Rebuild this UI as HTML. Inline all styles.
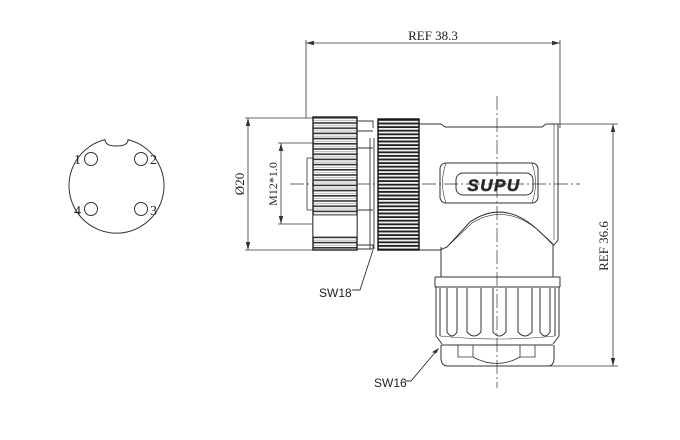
<!DOCTYPE html>
<html><head><meta charset="utf-8"><style>
html,body{margin:0;padding:0;background:#fff;}
svg{display:block;}
text{font-family:"Liberation Serif",serif;fill:#222;}
.s{font-family:"Liberation Sans",sans-serif;}
</style></head><body>
<svg width="680" height="440" viewBox="0 0 680 440" xmlns="http://www.w3.org/2000/svg">
<defs>
<pattern id="k1" x="0" y="117" width="10" height="5.2" patternUnits="userSpaceOnUse">
<rect width="10" height="5.2" fill="#fff"/><rect y="0" width="10" height="1.6" fill="#333"/><rect y="3.2" width="10" height="0.7" fill="#999"/>
</pattern>
<pattern id="k2" x="0" y="119" width="10" height="3.6" patternUnits="userSpaceOnUse">
<rect width="10" height="3.6" fill="#eee"/><rect y="0" width="10" height="1.8" fill="#222"/>
</pattern>
<marker id="a" markerWidth="8" markerHeight="6" refX="8" refY="3" orient="auto-start-reverse" markerUnits="userSpaceOnUse">
<path d="M0,0.8 L8,3 L0,5.2Z" fill="#333"/></marker>
</defs>
<g fill="none" stroke="#333" stroke-width="1">
<path d="M105,139.6 A47.5,47.5 0 1 0 128,139.6 Q128,146 116.5,146 Q105,146 105,139.6Z"/>
<circle cx="91" cy="159" r="6.5"/><circle cx="141" cy="159" r="6.5"/>
<circle cx="91" cy="209" r="6.5"/><circle cx="141" cy="209" r="6.5"/>

<line x1="306" y1="40" x2="306" y2="118" stroke-width="0.8"/>
<line x1="560" y1="40" x2="560" y2="128" stroke-width="0.8"/>
<line x1="306" y1="43" x2="560" y2="43" stroke-width="0.8" marker-start="url(#a)" marker-end="url(#a)"/>
<line x1="558" y1="124" x2="618" y2="124" stroke-width="0.8"/>
<line x1="540" y1="366" x2="618" y2="366" stroke-width="0.8"/>
<line x1="613" y1="124" x2="613" y2="366" stroke-width="0.8" marker-start="url(#a)" marker-end="url(#a)"/>
<line x1="245" y1="118" x2="313" y2="118" stroke-width="0.8"/>
<line x1="245" y1="250" x2="313" y2="250" stroke-width="0.8"/>
<line x1="248" y1="118" x2="248" y2="250" stroke-width="0.8" marker-start="url(#a)" marker-end="url(#a)"/>
<line x1="278" y1="143" x2="313" y2="143" stroke-width="0.8"/>
<line x1="278" y1="224" x2="313" y2="224" stroke-width="0.8"/>
<line x1="281" y1="143" x2="281" y2="224" stroke-width="0.8" marker-start="url(#a)" marker-end="url(#a)"/>
<path d="M313,158 H307 V210 H313" stroke-width="0.8"/>

<line x1="290" y1="184" x2="580" y2="184" stroke-width="0.7" stroke-dasharray="14,3,2,3"/>
<line x1="497" y1="96" x2="497" y2="388" stroke-width="0.7" stroke-dasharray="14,3,2,3"/>
</g>

<rect x="313" y="117" width="44" height="133" fill="url(#k1)" stroke="#222" stroke-width="1.4"/>
<rect x="313" y="215" width="44" height="22" fill="#fff" stroke="#333" stroke-width="0.8"/>
<g fill="none" stroke="#333" stroke-width="0.9">
<path d="M357,121 H373 V128 M357,131 H373 M357,148 H373 M357,210 H373 M357,245 H373 V249 H357"/>
<line x1="374" y1="138" x2="374" y2="249"/><line x1="370" y1="138" x2="370" y2="249"/>
</g>
<rect x="378" y="119" width="41" height="131" fill="url(#k2)" stroke="#111" stroke-width="1.4"/>

<g fill="none" stroke="#333" stroke-width="1">
<path d="M419,124 H441 L445,127 H542 L546,124 H558 V240 L554,245 L540,232 Q505,198 470,222 L447,247 L440,250 H419"/>
<path d="M554,124 V240" stroke-width="0.6"/>
<path d="M449,245 L472,223 Q505,203 538,230 L552,244" stroke-width="0.6"/>
<rect x="440" y="163" width="98" height="40" rx="6"/>
<path d="M446,163 Q439,183 446,203 M532,163 Q539,183 532,203" stroke-width="0.6"/>
<rect x="456" y="173" width="77" height="22" rx="7"/>
</g>
<text x="494" y="191" text-anchor="middle" class="s" font-size="17" font-style="italic" font-weight="bold" fill="#fff" stroke="#444" stroke-width="0.7" letter-spacing="1.5">SUPU</text>

<g fill="none" stroke="#333" stroke-width="1">
<line x1="441" y1="247" x2="441" y2="277"/><line x1="553" y1="244" x2="553" y2="277"/>
<path d="M435,277 H560 V287 M435,277 V287"/>
<path d="M435,287 H560"/>
<path d="M436,287 V336 L442,344 M559,287 V336 L553,344"/>
<path d="M440,288 V336 M555,288 V336"/>
<path d="M447,288 V332 Q452,340 457,332 V288"/>
<path d="M467,288 V332 Q474,340 481,332 V288"/>
<path d="M493,288 V332 Q499,340 506,332 V288"/>
<path d="M518,288 V332 Q525,340 532,332 V288"/>
<path d="M540,288 V332 Q545,340 550,332 V288"/>
<path d="M440,336 Q497,342 555,336" stroke-width="0.6"/>
<path d="M441,345 H553"/>
<path d="M441,345 V358 Q441,366 448,366 H548 Q554,366 554,358 V345"/>
<path d="M458,345 V357 H473 V345 M473,357 Q497,370 520,357 V345 M520,357 H535 V345" stroke-width="0.8"/>
</g>

<g fill="none" stroke="#333" stroke-width="0.9">
<path d="M373,250 L360,290 H352"/>
<path d="M438,349 L411,381 H405"/>
<path d="M438,349 l-5,3 l3,1z" fill="#333"/>
</g>

<text x="433" y="40" text-anchor="middle" font-size="13">REF 38.3</text>
<text transform="translate(608,246) rotate(-90)" text-anchor="middle" font-size="13">REF 36.6</text>
<text transform="translate(244,184) rotate(-90)" text-anchor="middle" font-size="13">Ø20</text>
<text transform="translate(277,184) rotate(-90)" text-anchor="middle" font-size="12">M12*1.0</text>
<text x="319" y="297" class="s" font-size="12">SW18</text>
<text x="374" y="387" class="s" font-size="12">SW16</text>
<text x="74" y="164" font-size="14">1</text>
<text x="150" y="164" font-size="14">2</text>
<text x="74" y="215" font-size="14">4</text>
<text x="150" y="215" font-size="14">3</text>
</svg>
</body></html>
